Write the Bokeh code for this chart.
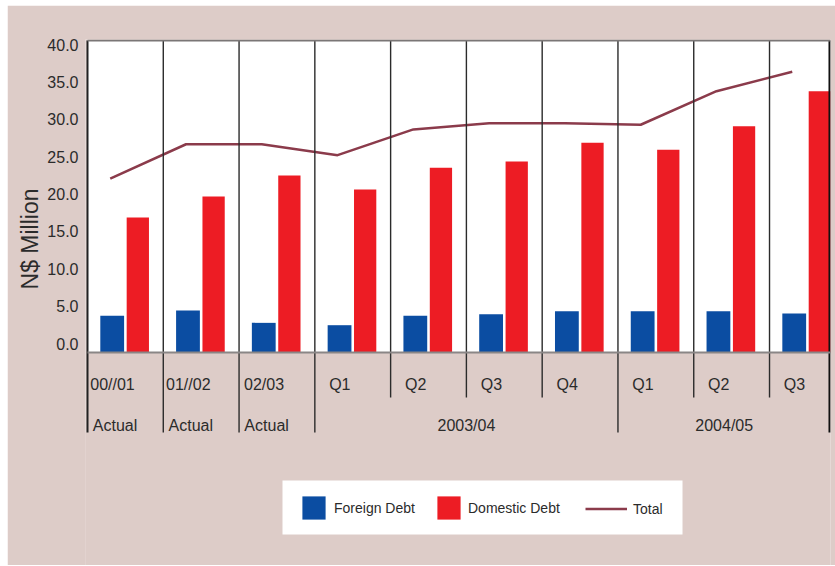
import numpy as np
from bokeh.plotting import figure
from bokeh.layouts import column, row
from bokeh.models import (Range1d, LinearAxis, FixedTicker, PrintfTickFormatter, BoxAnnotation,
                          Legend, LegendItem, Title, Spacer)
from bokeh.core.properties import value
from bokeh.embed import file_html
from bokeh.resources import INLINE

# ---- data ----
periods = ["00//01", "01//02", "02/03", "Q1", "Q2", "Q3", "Q4", "Q1", "Q2", "Q3"]
group_labels = ["Actual", "Actual", "Actual", "2003/04", "2004/05"]
group_start = [0, 1, 2, 3, 7]
group_end = [1, 2, 3, 7, 10]
foreign_debt = [4.7, 5.4, 3.8, 3.5, 4.7, 4.9, 5.3, 5.3, 5.3, 5.0]
domestic_debt = [17.3, 20.0, 22.7, 20.9, 23.7, 24.5, 26.9, 26.0, 29.0, 33.5]
total = [22.3, 26.7, 26.7, 25.3, 28.6, 29.4, 29.4, 29.2, 33.5, 36.0]
y_ticks = [0, 5, 10, 15, 20, 25, 30, 35, 40]

# ---- layout constants (page pixels) ----
OX, OY = 7, 5              # figure origin on page
FIG_W, FIG_H = 828, 560
PX_X = 75.78               # px per category
PX_Y = 7.8                 # px per N$ million
X0_PAGE, Y0_PAGE = 87, 352 # page position of x=0, y=0
F_L, F_R, F_T, F_B = 85, 830, 39, OY + FIG_H  # frame edges on page

def dx(page_x):
    return (page_x - X0_PAGE) / PX_X

def dy(page_y):
    return (Y0_PAGE - page_y) / PX_Y

PINK = "#ddccc8"
BLUE = "#0b4da2"
RED = "#ed1c24"
MAROON = "#8b3b4b"
TXT = "#2b2b2b"
FONT = "Liberation Sans"

n = len(periods)
idx = np.arange(n)
x_end = dx(F_R)

p = figure(width=FIG_W, height=FIG_H, output_backend="svg", toolbar_location=None,
           x_axis_location=None, y_axis_location=None,
           x_range=Range1d(dx(F_L), x_end), y_range=Range1d(dy(F_B), dy(F_T)),
           min_border_left=F_L - OX, min_border_right=OX + FIG_W - F_R,
           min_border_top=F_T - OY, min_border_bottom=0)
p.background_fill_color = PINK
p.border_fill_color = PINK
p.outline_line_color = None
p.xgrid.visible = False
p.ygrid.visible = False

# y-axis labels (slightly offset scale as in original)
p.extra_y_ranges = {"lab": Range1d((343 - F_B) / 7.475, (343 - F_T) / 7.475)}
ax = LinearAxis(y_range_name="lab", ticker=FixedTicker(ticks=y_ticks),
                formatter=PrintfTickFormatter(format="%.1f"))
ax.axis_line_color = None
ax.major_tick_line_color = None
ax.major_tick_out = 0
ax.major_tick_in = 0
ax.minor_tick_line_color = None
ax.minor_tick_out = 0
ax.major_label_standoff = 7
ax.major_label_text_font = FONT
ax.major_label_text_font_size = "16px"
ax.major_label_text_color = TXT
p.add_layout(ax, "left")

# y title
p.add_layout(Title(text="N$ Million", align="right", offset=149, text_font=FONT,
                   text_font_size="23px", text_font_style="normal", text_color=TXT,
                   standoff=4), "left")

# white plot area
p.add_layout(BoxAnnotation(left=0, right=x_end, bottom=0, top=40, fill_color="white",
                           fill_alpha=1, line_alpha=0, level="underlay"))

# bars and line
rb = p.vbar(x=idx + 0.326, width=0.314, top=foreign_debt, bottom=0, fill_color=BLUE, line_color=None)
rr = p.vbar(x=idx + 0.664, width=0.294, top=domestic_debt, bottom=0, fill_color=RED, line_color=None)
rl = p.line(idx + 0.30, total, line_color=MAROON, line_width=2.5)

# frame lines
long_b = dy(432)
short_b = dy(397)
sep_x = [1, 2, 3, 4, 5, 6, 7, 8, 9]
sep_b = [long_b, long_b, long_b, short_b, short_b, short_b, long_b, short_b, short_b]
# cover the frame/border seam below the chart
p.segment(x0=[dx(F_L)], y0=[long_b], x1=[dx(F_L)], y1=[dy(F_B)], line_color=PINK, line_width=4)
p.segment(x0=sep_x, y0=40, x1=sep_x, y1=sep_b, line_color="#2b2b2b", line_width=1.4)
p.segment(x0=[0], y0=[40], x1=[0], y1=[long_b], line_color="#222222", line_width=2)
p.segment(x0=[x_end - 0.012], y0=[40], x1=[x_end - 0.012], y1=[long_b], line_color="#111111", line_width=2.2)
p.segment(x0=[0], y0=[40], x1=[x_end], y1=[40], line_color="#7a7676", line_width=2)
p.segment(x0=[0], y0=[0], x1=[x_end], y1=[0], line_color="#8a8686", line_width=2)

# category labels
p.text(x=idx + 0.33, y=[dy(384)] * n, text=periods, text_align="center", text_baseline="middle",
       text_font=value(FONT), text_font_size="16px", text_color=TXT)
gx, galign = [], []
for lab, s, e in zip(group_labels, group_start, group_end):
    if lab == "Actual":
        gx.append(s + 0.07)
        galign.append("left")
    else:
        gx.append((s + min(e, x_end)) / 2)
        galign.append("center")
p.text(x=gx, y=[dy(425)] * len(gx), text=group_labels, text_align=galign, text_baseline="middle",
       text_font=value(FONT), text_font_size="16px", text_color=TXT)

# legend box
p.add_layout(BoxAnnotation(left=dx(282), right=dx(682), top=dy(480), bottom=dy(534),
                           fill_color="white", fill_alpha=1, line_alpha=0, level="underlay"))

def mk_legend(label, renderer, px_left, top_page, gw, standoff):
    lg = Legend(items=[LegendItem(label=label, renderers=[renderer])],
                location=(px_left - F_L, F_B - top_page - 29), orientation="horizontal",
                margin=0, padding=0, spacing=0, glyph_width=gw, glyph_height=29,
                label_standoff=standoff, background_fill_alpha=0, border_line_alpha=0,
                label_text_font=FONT, label_text_font_size="14px", label_text_color=TXT)
    p.add_layout(lg)

mk_legend("Foreign Debt", rb, 299, 493, 29, 6)
mk_legend("Domestic Debt", rr, 434, 493, 29, 5)
mk_legend("Total", rl, 585, 494, 42, 6)

layout = column(Spacer(height=OY, width=FIG_W + OX),
                row(Spacer(width=OX, height=FIG_H), p, spacing=0), spacing=0)

open("out.html", "w").write(file_html(layout, INLINE))
